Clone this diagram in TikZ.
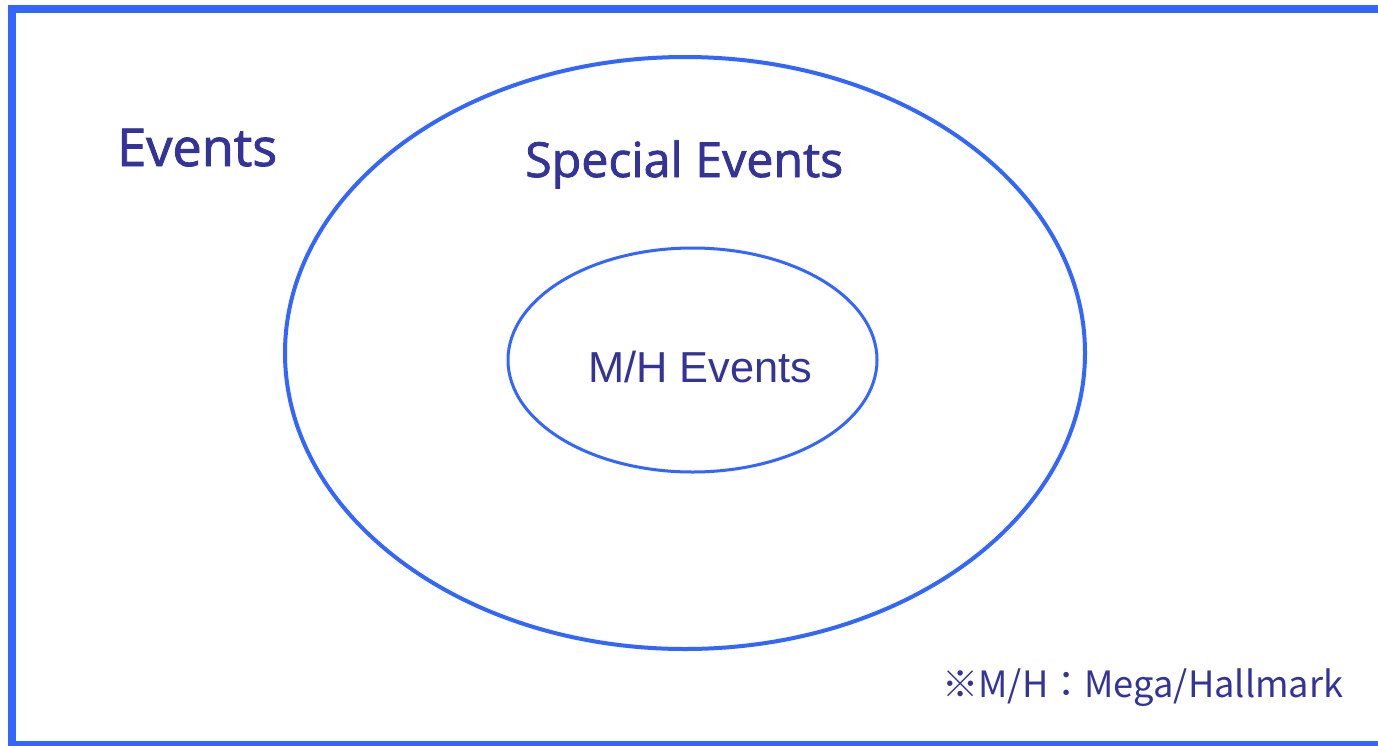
\documentclass[tikz,border=0pt]{standalone}
\usepackage{fontspec}
\setmainfont{Open Sans}
\newfontfamily\semib{Open Sans}[FakeBold=1.6]
\newfontfamily\cjk{Noto Sans CJK KR}
\newfontfamily\arialf{Liberation Sans}
\usetikzlibrary{shapes.geometric}
\definecolor{lineblue}{HTML}{3366FF}
\definecolor{textblue}{HTML}{333399}
\begin{document}
\begin{tikzpicture}[x=1pt,y=-1pt,
  ring/.style={draw=lineblue, ellipse, inner sep=0pt, fill=none},
  lbl/.style={text=textblue, inner sep=0pt, anchor=base west}]
\useasboundingbox (0,0) rectangle (1378,745);
\fill[white] (0,0) rectangle (1378,745);
\draw[lineblue, line width=8pt] (1400,8.5) -- (12,8.5) -- (12,744.5) -- (1400,744.5);
\node[ring, line width=4pt, minimum width=800pt, minimum height=592pt] (outer) at (685,353) {};
\node[ring, line width=3pt, minimum width=369pt, minimum height=224pt] (inner) at (692.5,360) {};
\node[lbl] (ev) at (117,166) {\resizebox{160pt}{!}{\semib\fontsize{48}{48}\selectfont Events}};
\node[lbl] (sp) at (525,177) {\resizebox{318pt}{!}{\semib\fontsize{42}{42}\selectfont Special Events}};
\node[lbl] (mh) at (588,382) {\resizebox{224pt}{!}{\arialf\fontsize{42}{42}\selectfont M/H Events}};
\node[lbl] (note) at (942,697) {\resizebox{401pt}{!}{\cjk\fontsize{35}{35}\selectfont ※M/H：Mega/Hallmark}};
\end{tikzpicture}
\end{document}
